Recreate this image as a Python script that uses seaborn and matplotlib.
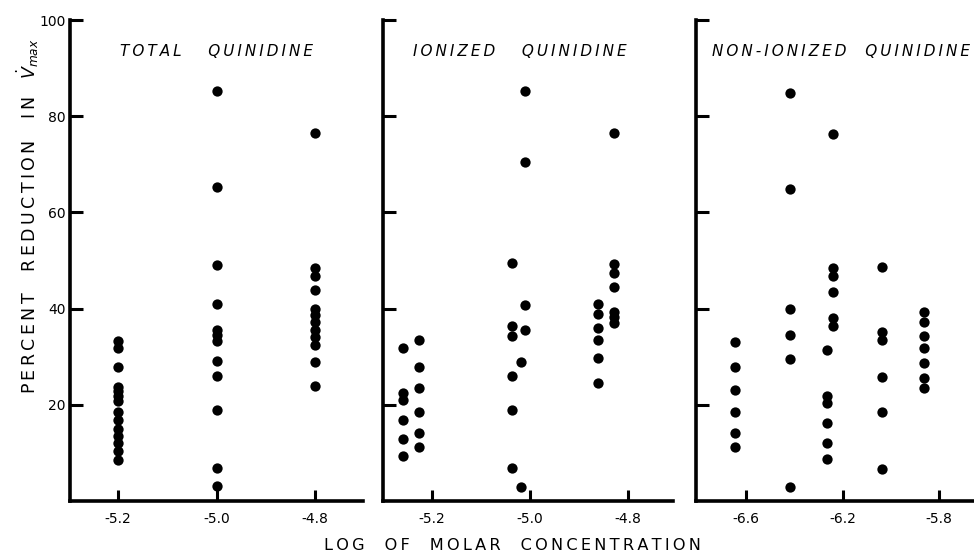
import matplotlib
matplotlib.use('Agg')
import matplotlib.pyplot as plt
import numpy as np
import pandas as pd
import seaborn as sns

sns.set_style('ticks')
plt.rcParams['font.family'] = ['DejaVu Sans']
plt.rcParams['mathtext.fontset'] = 'dejavusans'
for key in ['text.color', 'axes.edgecolor', 'axes.labelcolor', 'xtick.color', 'ytick.color']:
    plt.rcParams[key] = 'black'

# ---- data ----
# total quinidine, log molar concentration
total_x = [-5.2] * 14 + [-5.0] * 12 + [-4.8] * 12
total_y = [33.3, 31.8, 27.9, 23.8, 22.8, 21.8, 20.8, 18.5, 16.8, 15.0, 13.5, 12.0, 10.3, 8.5,
           85.2, 65.2, 49.1, 41.0, 35.6, 34.5, 33.3, 29.2, 26.0, 19.0, 6.9, 3.1,
           76.5, 48.5, 46.7, 43.8, 40.0, 38.7, 37.3, 35.6, 34.0, 32.5, 28.8, 24.0]

# ionized quinidine
ionized_x = ([-5.258] * 6 + [-5.226] * 6 + [-5.037] * 6 + [-5.017] * 2 + [-5.010] * 4
             + [-4.860] * 6 + [-4.828] * 7)
ionized_y = [31.9, 22.4, 21.0, 16.9, 12.8, 9.3,
             33.4, 27.9, 23.4, 18.5, 14.2, 11.3,
             49.5, 36.3, 34.3, 26.0, 19.0, 6.9,
             28.8, 3.0,
             85.3, 70.4, 40.8, 35.6,
             40.9, 38.8, 35.9, 33.5, 29.8, 24.5,
             76.5, 49.2, 47.4, 44.6, 39.3, 38.2, 37.1]

# non-ionized quinidine
nonion_x = ([-6.646] * 6 + [-6.418] * 6 + [-6.264] * 6 + [-6.239] * 6
            + [-6.038] * 6 + [-5.863] * 7)
nonion_y = [33.0, 27.8, 23.0, 18.6, 14.1, 11.2,
            84.9, 64.9, 40.0, 34.6, 29.6, 3.0,
            31.5, 21.9, 20.3, 16.3, 12.1, 8.8,
            76.3, 48.5, 46.7, 43.5, 38.0, 36.3,
            48.7, 35.1, 33.4, 25.7, 18.5, 6.6,
            39.3, 37.2, 34.3, 31.9, 28.6, 25.6, 23.4]

titles = ['TOTAL   QUINIDINE', 'IONIZED   QUINIDINE', 'NON-IONIZED  QUINIDINE']
xticks_total = [-5.2, -5.0, -4.8]
xticks_nonion = [-6.6, -6.2, -5.8]
yticks = [20, 40, 60, 80, 100]


def spaced(s):
    # old lettering is widely tracked, pad letters with thin spaces
    return '\u2009'.join(s)


panels = [
    (pd.DataFrame({'logc': total_x, 'red': total_y}), xticks_total, (-5.2975, -4.7025), -5.0),
    (pd.DataFrame({'logc': ionized_x, 'red': ionized_y}), xticks_total, (-5.299, -4.708), -5.02),
    (pd.DataFrame({'logc': nonion_x, 'red': nonion_y}), xticks_nonion, (-6.807, -5.656), -6.205),
]
boxes = [[0.0719, 0.0957, 0.3008, 0.868],
         [0.3932, 0.0957, 0.2977, 0.868],
         [0.7146, 0.0957, 0.2854, 0.868]]

fig = plt.figure(figsize=(9.74, 5.54), dpi=100)

for i, ((df, xt, xl, tx), box) in enumerate(zip(panels, boxes)):
    ax = fig.add_axes(box)
    sns.scatterplot(data=df, x='logc', y='red', ax=ax, color='black',
                    s=55, linewidth=0, legend=False)
    ax.set_xlim(*xl)
    ax.set_ylim(0, 100)
    ax.set_xticks(xt)
    ax.set_xticklabels(['%.1f' % v for v in xt], fontsize=10)
    ax.set_yticks(yticks)
    if i == 0:
        ax.set_yticklabels([str(v) for v in yticks], fontsize=10)
    else:
        ax.set_yticklabels([])
    ax.tick_params(axis='y', direction='in', length=9, width=2.2, pad=3)
    ax.tick_params(axis='x', direction='in', length=8, width=2.2, pad=8)
    ax.set_xlabel('')
    ax.set_ylabel('')
    for side in ['top', 'right']:
        ax.spines[side].set_visible(False)
    for side in ['left', 'bottom']:
        ax.spines[side].set_linewidth(2.6)
    ax.text(tx, 93.5, spaced(titles[i]), ha='center', va='center', fontsize=11, style='italic')

fig.text(0.029, 0.61, spaced('PERCENT  REDUCTION  IN  ') + r'$\dot{V}_{max}$', rotation=90,
         ha='center', va='center', fontsize=12.5)
fig.text(0.526, 0.016, spaced('LOG  OF  MOLAR  CONCENTRATION'), ha='center', va='center',
         fontsize=11.6)

fig.savefig('out.png', dpi=100)
